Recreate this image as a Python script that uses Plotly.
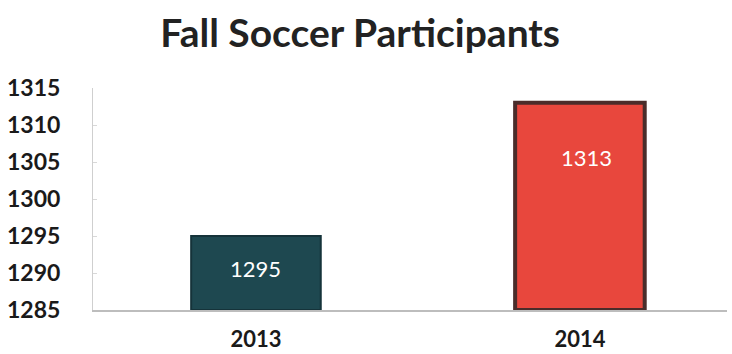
import plotly.graph_objects as go

years = ["2013", "2014"]
participants = [1295, 1313]
bar_colors = ["#1e4850", "#e8473d"]
edge_colors = ["#15333a", "#4a2c2a"]
tick_vals = [1285, 1290, 1295, 1300, 1305, 1310, 1315]
axis_floor = 1285

fig = go.Figure()
fig.add_trace(go.Bar(
    x=years, y=[v - axis_floor for v in participants],
    base=axis_floor,
    marker=dict(color=bar_colors, line=dict(color=edge_colors, width=[2, 4])),
    width=0.40,
    textposition="none",
    hoverinfo="skip",
))

# value labels
label_y = [participants[0] - 4.4, participants[1] - 7.4]
label_dx = [0, 0.02]
for i, (yr, v) in enumerate(zip(years, participants)):
    fig.add_annotation(x=i + label_dx[i], y=label_y[i], text=str(v), showarrow=False,
                       font=dict(family="Lato", size=22, color="white"),
                       xref="x", yref="y")

fig.update_layout(
    width=732, height=354,
    margin=dict(l=93, r=5, t=88, b=44),
    paper_bgcolor="white", plot_bgcolor="white",
    title=dict(text="<b>Fall Soccer Participants</b>", x=0.492, xanchor="center",
               y=0.905, yanchor="middle",
               font=dict(family="Lato", size=39, color="#222222")),
    showlegend=False,
)
fig.update_yaxes(range=[1285, 1315], tickvals=tick_vals, showgrid=False, automargin=False,
                 showline=True, linecolor="#cfcfcf", linewidth=1,
                 ticks="inside", ticklen=4, tickcolor="#d8d8d8",
                 ticklabelstandoff=27,
                 tickfont=dict(family="Lato", size=23, color="#1a1a1a", weight="bold"),
                 zeroline=False)
fig.update_xaxes(range=[-0.503, 1.454], showline=True, linecolor="#bdbdbd", linewidth=2,
                 showgrid=False, ticks="", ticklabelstandoff=9, automargin=False,
                 tickfont=dict(family="Lato", size=22, color="#1a1a1a", weight="bold"))

fig.write_html("out.html")
